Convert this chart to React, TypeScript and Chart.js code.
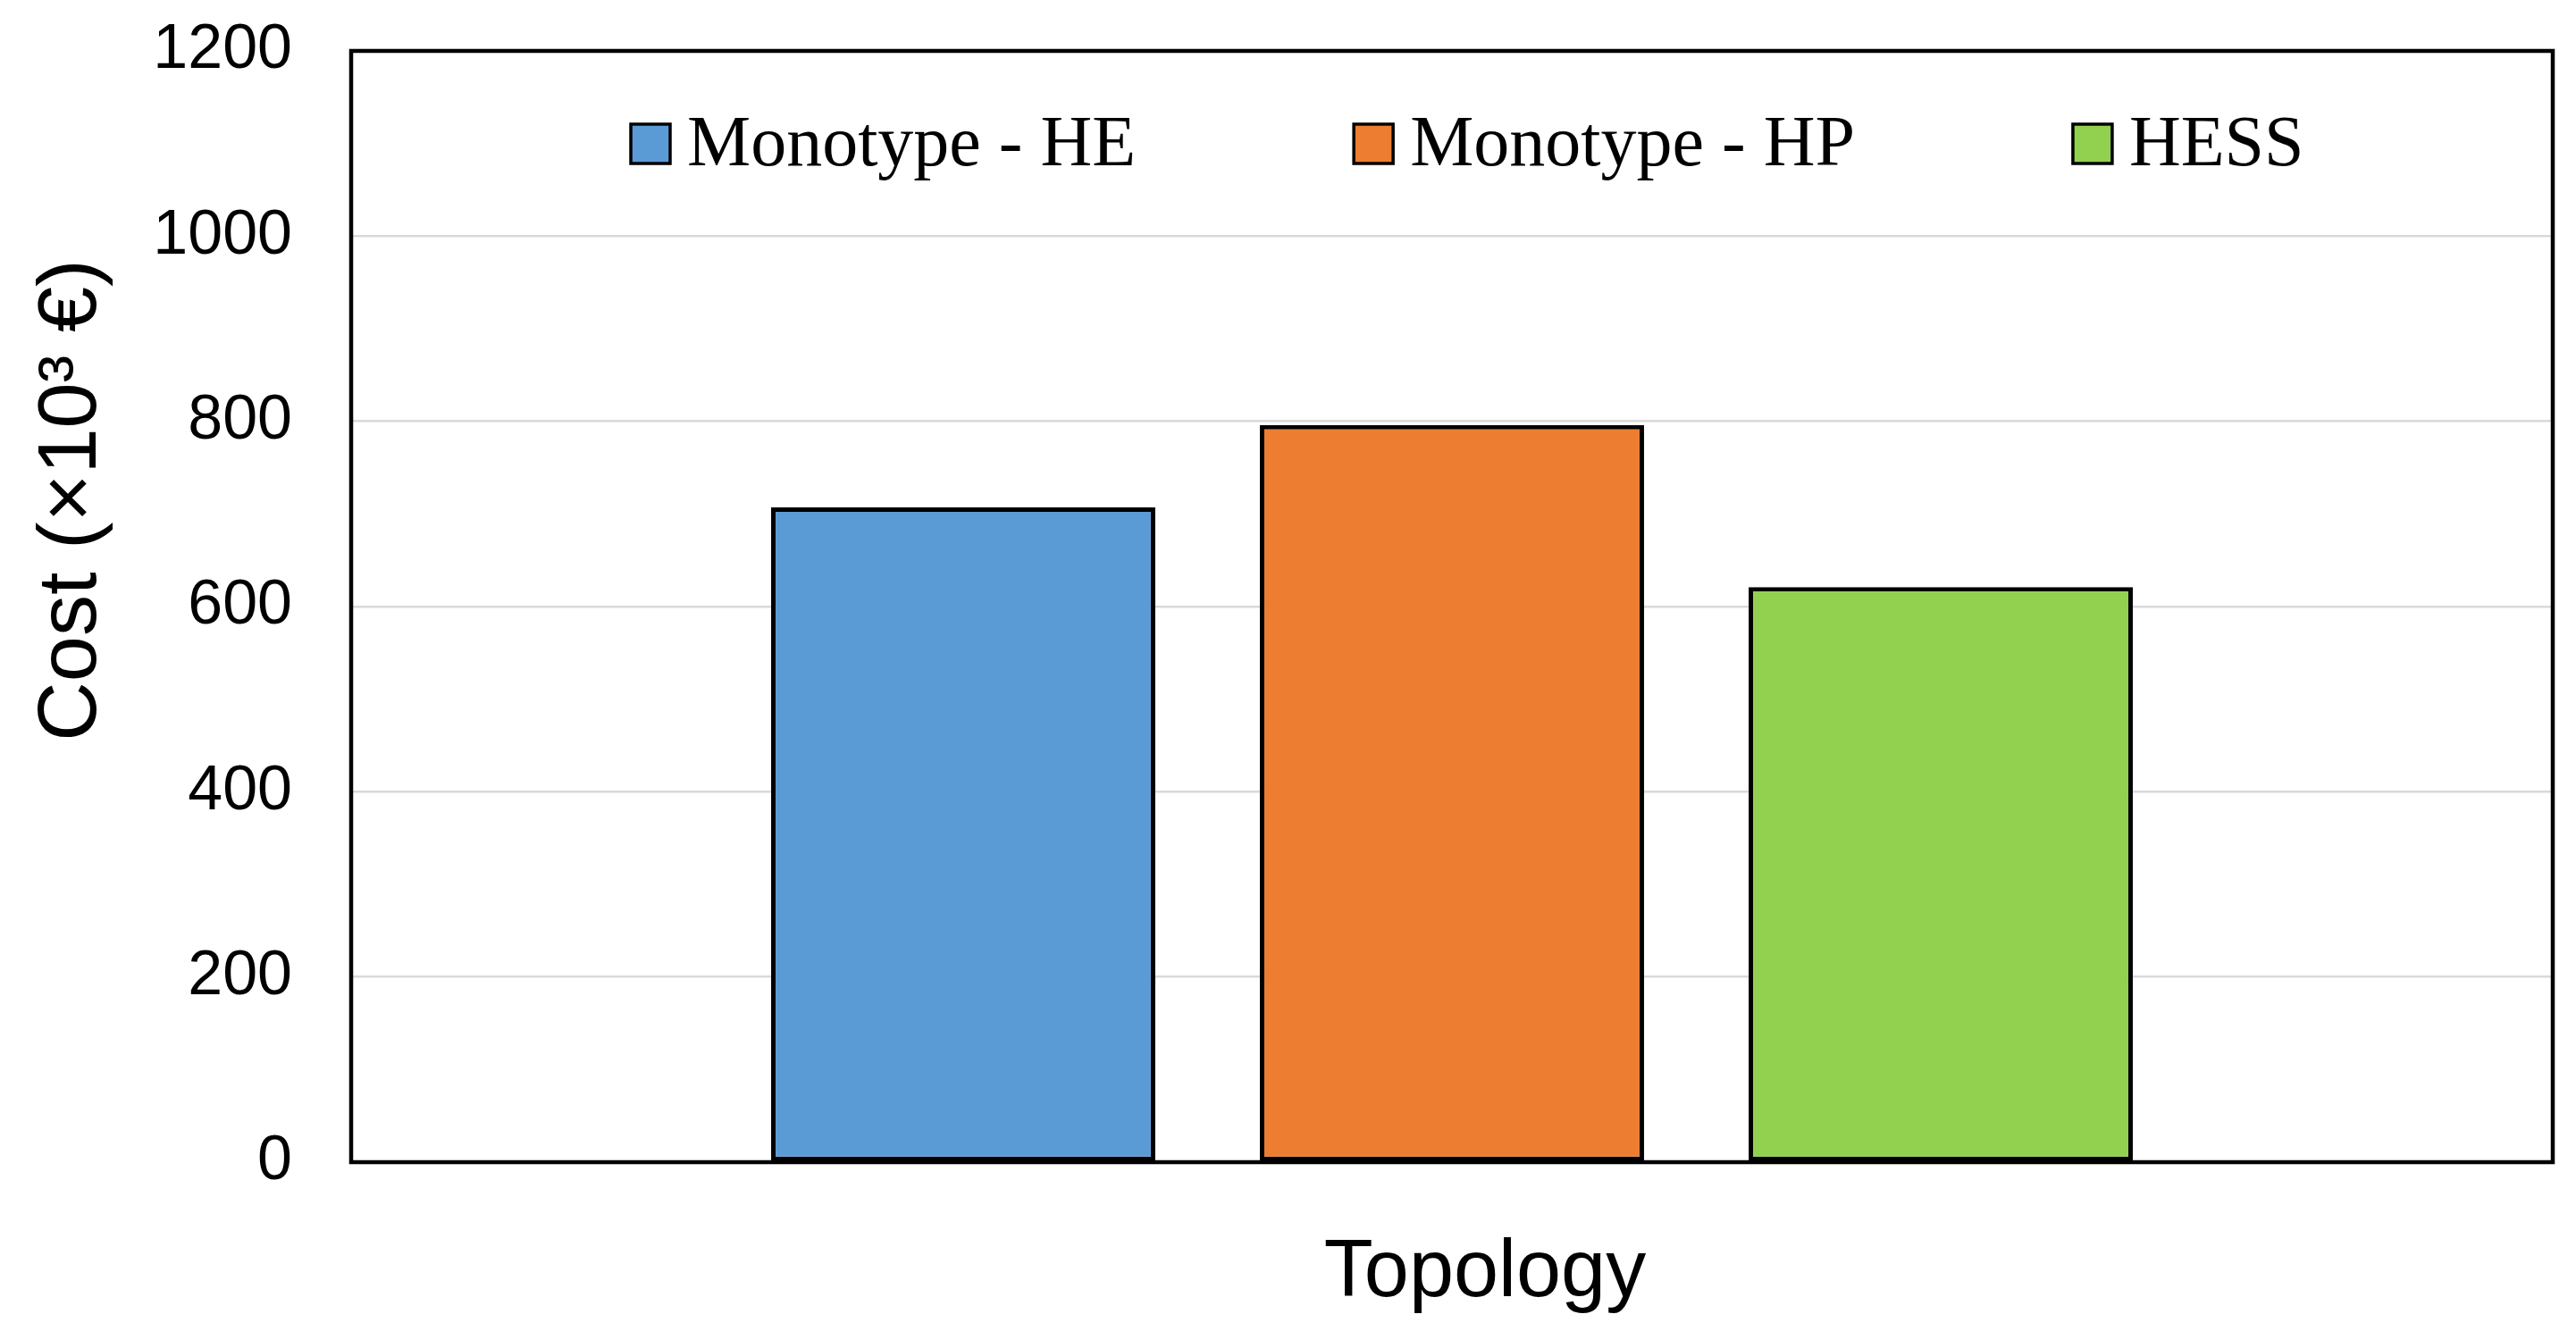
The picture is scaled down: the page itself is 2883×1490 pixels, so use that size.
import React, { useEffect, useRef } from "react";
import { Chart, registerables } from "chart.js";

Chart.register(...registerables);

const categories = ["Topology"];
const seriesNames = ["Monotype - HE", "Monotype - HP", "HESS"];
const monotypeHE = [707];
const monotypeHP = [796];
const hess = [621];
const seriesColors = ["#5B9BD5", "#ED7D31", "#92D050"];
const yMin = 0;
const yMax = 1200;
const yStep = 200;
const yTitle = "Cost (×10³ €)";
const xTitle = "Topology";

const SANS = "'Liberation Sans', Arial, sans-serif";
const SERIF = "'Liberation Serif', 'Times New Roman', serif";

const decorPlugin = {
  id: "decor",
  afterDatasetsDraw(chart: any) {
    const { ctx, chartArea } = chart;
    const { left, top, right, bottom } = chartArea;
    ctx.save();
    // frame
    ctx.strokeStyle = "#000";
    ctx.lineWidth = 4.5;
    ctx.strokeRect(left, top, right - left, bottom - top);

    // legend inside plot area
    ctx.font = `80px ${SERIF}`;
    ctx.textBaseline = "alphabetic";
    ctx.textAlign = "left";
    const box = 44;
    const boxCenterY = top + 104;
    const baseline = top + 128;
    let x = left + 313;
    chart.data.datasets.forEach((ds: any) => {
      ctx.fillStyle = ds.backgroundColor;
      ctx.fillRect(x, boxCenterY - box / 2, box, box);
      ctx.lineWidth = 3.5;
      ctx.strokeStyle = "#000";
      ctx.strokeRect(x, boxCenterY - box / 2, box, box);
      ctx.fillStyle = "#000";
      const tx = x + box + 19;
      ctx.fillText(ds.label, tx, baseline);
      const w = ctx.measureText(ds.label).width;
      x = tx + w + 244;
    });

    // y title
    ctx.font = `92px ${SANS}`;
    ctx.fillStyle = "#000";
    ctx.textAlign = "center";
    ctx.textBaseline = "alphabetic";
    ctx.translate(107, 560);
    ctx.rotate(-Math.PI / 2);
    ctx.fillText(yTitle, 0, 0);
    ctx.setTransform(1, 0, 0, 1, 0, 0);

    // x title
    ctx.font = `90px ${SANS}`;
    ctx.textAlign = "center";
    ctx.textBaseline = "alphabetic";
    ctx.fillText(xTitle, (left + right) / 2 + 37, bottom + 150);
    ctx.restore();
  },
};

export default function App() {
  const ref = useRef<HTMLCanvasElement | null>(null);
  useEffect(() => {
    if (!ref.current) return;
    const values = [monotypeHE, monotypeHP, hess];
    const chart = new Chart(ref.current, {
      type: "bar",
      data: {
        labels: categories,
        datasets: seriesNames.map((name, i) => ({
          label: name,
          data: values[i],
          backgroundColor: seriesColors[i],
          borderColor: "#000",
          borderWidth: 5,
          borderSkipped: false,
          categoryPercentage: 0.666,
          barPercentage: 0.786,
        })),
      },
      options: {
        animation: false,
        responsive: true,
        maintainAspectRatio: false,
        layout: { padding: { left: 0, right: 26, top: 57, bottom: 0 } },
        plugins: {
          legend: { display: false },
          tooltip: { enabled: false },
        },
        scales: {
          x: {
            ticks: { display: false },
            grid: { display: false },
            border: { display: false },
            afterFit: (s: any) => {
              s.height = 189;
              s.paddingLeft = 0;
              s.paddingRight = 0;
            },
          },
          y: {
            min: yMin,
            max: yMax,
            ticks: {
              stepSize: yStep,
              padding: 66,
              color: "#000",
              font: { family: SANS, size: 70 },
              callback: (v: any) => String(v),
            },
            grid: { color: "#d9d9d9", lineWidth: 2.5, drawTicks: false },
            border: { display: false },
            afterFit: (s: any) => {
              s.width = 393;
              s.paddingTop = 0;
              s.paddingBottom = 0;
            },
          },
        },
      },
      plugins: [decorPlugin],
    });
    return () => chart.destroy();
  }, []);
  return (
    <div style={{ position: "fixed", left: 0, top: 0, width: 2883, height: 1490, background: "#fff" }}>
      <canvas ref={ref} style={{ width: "100%", height: "100%" }} />
    </div>
  );
}
